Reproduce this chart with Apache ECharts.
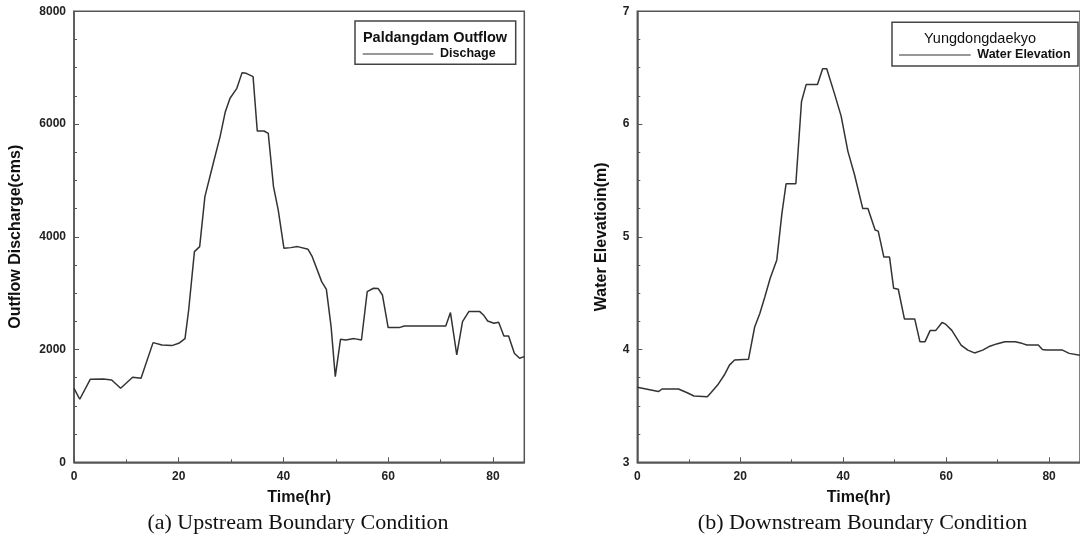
<!DOCTYPE html>
<html>
<head>
<meta charset="utf-8">
<script src="https://cdn.jsdelivr.net/npm/echarts@6/dist/echarts.min.js"></script>
<style>
html,body{margin:0;padding:0;background:#fff;}
#c{width:1080px;height:539px;}
</style>
</head>
<body>
<div id="c"></div>
<script>
// ---- Data ----
const timeUp = [0, 1.1, 3.1, 5.6, 7.2, 8.9, 11.2, 12.8, 15.1, 16.8, 18.7, 19.0, 20.0, 21.2, 21.9, 23.0, 24.0, 25.0, 26.6, 27.9, 28.9, 29.8, 31.1, 32.1, 32.9, 34.2, 35.0, 36.3, 37.1, 38.1, 39.0, 40.1, 41.4, 42.7, 44.7, 45.5, 47.3, 48.2, 49.1, 49.9, 50.9, 51.9, 53.5, 54.9, 56.0, 57.2, 58.1, 58.9, 60.0, 62.1, 63.1, 71.0, 71.9, 73.1, 74.2, 75.4, 77.5, 78.2, 79.0, 80.2, 81.1, 82.1, 83.0, 84.1, 85.1, 86.0];
const dischargeUp = [1313, 1118, 1472, 1478, 1460, 1313, 1508, 1490, 2123, 2081, 2070, 2050, 2111, 2194, 2702, 3737, 3826, 4713, 5304, 5777, 6220, 6457, 6634, 6912, 6900, 6841, 5877, 5877, 5836, 4890, 4476, 3796, 3808, 3826, 3778, 3648, 3205, 3069, 2407, 1520, 2182, 2170, 2194, 2170, 3027, 3087, 3081, 2968, 2389, 2389, 2418, 2418, 2655, 1904, 2495, 2673, 2673, 2614, 2507, 2466, 2483, 2241, 2241, 1934, 1845, 1874];

const timeDown = [0, 4.1, 4.8, 8.0, 9.7, 11.0, 13.6, 14.3, 15.6, 16.9, 17.9, 18.9, 21.6, 22.8, 23.8, 24.8, 25.8, 27.1, 28.1, 28.9, 30.8, 31.9, 32.8, 35.0, 36.0, 36.8, 38.3, 39.6, 40.9, 42.2, 43.8, 44.8, 46.2, 46.8, 47.9, 49.0, 49.8, 50.7, 51.9, 53.9, 54.9, 55.9, 56.9, 58.0, 59.2, 59.9, 61.1, 62.9, 64.2, 65.5, 67.1, 68.5, 69.8, 71.4, 73.4, 74.7, 75.7, 77.9, 78.7, 79.4, 82.6, 83.9, 86.0];
const elevationDown = [3.665, 3.627, 3.65, 3.65, 3.617, 3.588, 3.582, 3.617, 3.685, 3.774, 3.862, 3.907, 3.913, 4.2, 4.32, 4.47, 4.63, 4.795, 5.21, 5.47, 5.47, 6.2, 6.35, 6.35, 6.49, 6.49, 6.27, 6.07, 5.76, 5.55, 5.25, 5.25, 5.06, 5.05, 4.82, 4.82, 4.543, 4.535, 4.27, 4.27, 4.07, 4.07, 4.17, 4.17, 4.24, 4.225, 4.17, 4.04, 3.995, 3.97, 3.995, 4.03, 4.05, 4.07, 4.07, 4.055, 4.04, 4.04, 4.0, 3.995, 3.995, 3.966, 3.95];

const xTicksInterval = 20;
const upYInterval = 2000;
const downYInterval = 1;

// ---- Chart ----
const chart = echarts.init(document.getElementById('c'), null, {renderer: 'canvas'});
const axisColor = '#555';
const labelStyle = {color: '#222', fontFamily: 'Liberation Sans, Arial, sans-serif', fontWeight: 'bold', fontSize: 12, formatter: v => String(v)};
const nameStyle = {color: '#111', fontFamily: 'Liberation Sans, Arial, sans-serif', fontWeight: 'bold', fontSize: 16};

function xAxisCfg(gridIndex) {
  return {
    type: 'value', gridIndex: gridIndex, min: 0, max: 86, interval: xTicksInterval,
    name: 'Time(hr)', nameLocation: 'middle', nameGap: 27, nameTextStyle: nameStyle,
    axisLine: {show: true, lineStyle: {color: axisColor, width: 1.5}},
    axisTick: {show: true, inside: true, length: 5, lineStyle: {color: axisColor, width: 1}},
    minorTick: {show: true, splitNumber: 2, length: 3, lineStyle: {color: axisColor, width: 1}},
    axisLabel: Object.assign({margin: 8, showMaxLabel: false}, labelStyle),
    splitLine: {show: false}
  };
}
function yAxisCfg(gridIndex, min, max, interval, name, gap) {
  return {
    type: 'value', gridIndex: gridIndex, min: min, max: max, interval: interval,
    name: name, nameLocation: 'middle', nameGap: gap, nameTextStyle: nameStyle,
    axisLine: {show: true, lineStyle: {color: axisColor, width: 1.5}},
    axisTick: {show: true, inside: true, length: 5, lineStyle: {color: axisColor, width: 1}},
    minorTick: {show: true, splitNumber: 4, length: 3, lineStyle: {color: axisColor, width: 1}},
    axisLabel: Object.assign({margin: 8}, labelStyle),
    splitLine: {show: false}
  };
}

const lineStyle = {color: '#333', width: 1.5};

chart.setOption({
  animation: false,
  backgroundColor: '#fff',
  grid: [
    {left: 74, top: 11.3, width: 450.3, height: 451, show: true, borderColor: axisColor, borderWidth: 1.5},
    {left: 637.3, top: 11.3, width: 450.6, height: 451, show: true, borderColor: axisColor, borderWidth: 1.5}
  ],
  xAxis: [xAxisCfg(0), xAxisCfg(1)],
  yAxis: [
    yAxisCfg(0, 0, 8000, upYInterval, 'Outflow Discharge(cms)', 50),
    yAxisCfg(1, 3, 7, downYInterval, 'Water Elevatioin(m)', 28)
  ],
  series: [
    {type: 'line', xAxisIndex: 0, yAxisIndex: 0, showSymbol: false, lineStyle: lineStyle,
     data: timeUp.map((t, i) => [t, dischargeUp[i]])},
    {type: 'line', xAxisIndex: 1, yAxisIndex: 1, showSymbol: false, lineStyle: lineStyle,
     data: timeDown.map((t, i) => [t, elevationDown[i]])}
  ],
  graphic: [
    // Left legend
    {type: 'rect', shape: {x: 355, y: 21, width: 160.7, height: 43.3}, style: {fill: '#fff', stroke: '#444', lineWidth: 1.5}, z: 10},
    {type: 'text', x: 435, y: 37.7, style: {text: 'Paldangdam Outflow', fill: '#111', font: 'bold 14.5px "Liberation Sans", Arial, sans-serif', textAlign: 'center', textVerticalAlign: 'middle'}, z: 11},
    {type: 'line', shape: {x1: 362.7, y1: 54, x2: 433.3, y2: 54}, style: {stroke: '#333', lineWidth: 1.2}, z: 11},
    {type: 'text', x: 440, y: 54, style: {text: 'Dischage', fill: '#111', font: 'bold 12.5px "Liberation Sans", Arial, sans-serif', textAlign: 'left', textVerticalAlign: 'middle'}, z: 11},
    // Right legend
    {type: 'rect', shape: {x: 892, y: 22.3, width: 186, height: 43.7}, style: {fill: '#fff', stroke: '#444', lineWidth: 1.5}, z: 10},
    {type: 'text', x: 980, y: 39, style: {text: 'Yungdongdaekyo', fill: '#111', font: '14.5px "Liberation Sans", Arial, sans-serif', textAlign: 'center', textVerticalAlign: 'middle'}, z: 11},
    {type: 'line', shape: {x1: 899, y1: 55, x2: 970.7, y2: 55}, style: {stroke: '#333', lineWidth: 1.2}, z: 11},
    {type: 'text', x: 977.3, y: 55, style: {text: 'Water Elevation', fill: '#111', font: 'bold 12.5px "Liberation Sans", Arial, sans-serif', textAlign: 'left', textVerticalAlign: 'middle'}, z: 11},
    // Captions
    {type: 'text', x: 298, y: 523, style: {text: '(a) Upstream Boundary Condition', fill: '#111', font: '22px "Liberation Serif", "Times New Roman", serif', textAlign: 'center', textVerticalAlign: 'middle'}},
    {type: 'text', x: 862.5, y: 523, style: {text: '(b) Downstream Boundary Condition', fill: '#111', font: '22px "Liberation Serif", "Times New Roman", serif', textAlign: 'center', textVerticalAlign: 'middle'}}
  ]
});
</script>
</body>
</html>
